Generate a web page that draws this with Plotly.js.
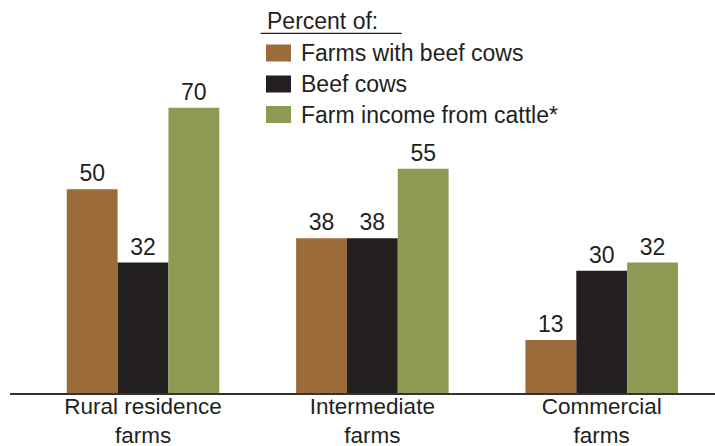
<!DOCTYPE html>
<html><head><meta charset="utf-8">
<script src="https://cdn.plot.ly/plotly-3.0.1.min.js"></script>
<style>html,body{margin:0;padding:0;background:#fff}#chart{width:715px;height:446px}</style>
</head><body><div id="chart"></div>
<script>
// ---- data ----
const categories = ["Rural residence<br>farms", "Intermediate<br>farms", "Commercial<br>farms"];
const seriesNames = ["Farms with beef cows", "Beef cows", "Farm income from cattle*"];
const farmsWithBeefCows = [50, 38, 13];
const beefCows = [32, 38, 30];
const farmIncomeFromCattle = [70, 55, 32];
const legendTitle = "Percent of:";

// ---- style ----
const colors = ["#9B6B39", "#231F20", "#8E9954"];
const textColor = "#231F20";
const fontFamily = "Liberation Sans, Arial, Helvetica, sans-serif";
const W = 715, H = 446;
const M = {l: 10, r: 0, t: 0, b: 53};
const plotW = W - M.l - M.r, plotH = H - M.t - M.b;
const px = x => (x - M.l) / plotW;
const py = y => (plotH + M.t - y) / plotH;

const seriesValues = [farmsWithBeefCows, beefCows, farmIncomeFromCattle];
const traces = seriesValues.map((vals, i) => ({
  type: "bar",
  name: seriesNames[i],
  x: categories,
  y: vals,
  marker: {color: colors[i], line: {width: 0}},
  text: vals.map(String),
  textposition: "outside",
  textfont: {size: 23, color: textColor, family: fontFamily},
  cliponaxis: false,
  hoverinfo: "skip"
}));

// custom legend
const legendRows = [53, 84, 114.5];
const shapes = [{
  type: "line", xref: "paper", yref: "paper",
  x0: px(260.7), x1: px(401.7), y0: py(33.3), y1: py(33.3),
  line: {color: textColor, width: 1.3}
}];
const annotations = [{
  xref: "paper", yref: "paper", x: px(266), y: py(21.5),
  xanchor: "left", yanchor: "middle", showarrow: false, borderpad: 0,
  text: legendTitle, font: {size: 23, color: textColor, family: fontFamily}
}];
seriesNames.forEach((n, i) => {
  const cy = legendRows[i];
  shapes.push({
    type: "rect", xref: "paper", yref: "paper",
    x0: px(266), x1: px(291), y0: py(cy - 8.5), y1: py(cy + 8.5),
    fillcolor: colors[i], line: {width: 0}
  });
  annotations.push({
    xref: "paper", yref: "paper", x: px(300), y: py(cy),
    xanchor: "left", yanchor: "middle", showarrow: false, borderpad: 0,
    text: n, font: {size: 23, color: textColor, family: fontFamily}
  });
});

const layout = {
  width: W, height: H,
  margin: M,
  paper_bgcolor: "#fff", plot_bgcolor: "#fff",
  barmode: "group", bargap: 0.335, bargroupgap: 0,
  showlegend: false,
  font: {family: fontFamily, color: textColor},
  xaxis: {
    type: "category", range: [-0.58, 2.494], fixedrange: true,
    showline: true, linecolor: "#333", linewidth: 1.5,
    ticks: "", showgrid: false, zeroline: false,
    ticklabelstandoff: -8,
    tickfont: {size: 22.5, color: textColor, family: fontFamily}
  },
  yaxis: {range: [0, 96.44], visible: false, showgrid: false, zeroline: false, fixedrange: true},
  shapes: shapes,
  annotations: annotations
};

Plotly.newPlot("chart", traces, layout, {displayModeBar: false, staticPlot: true});
</script>
</body></html>
